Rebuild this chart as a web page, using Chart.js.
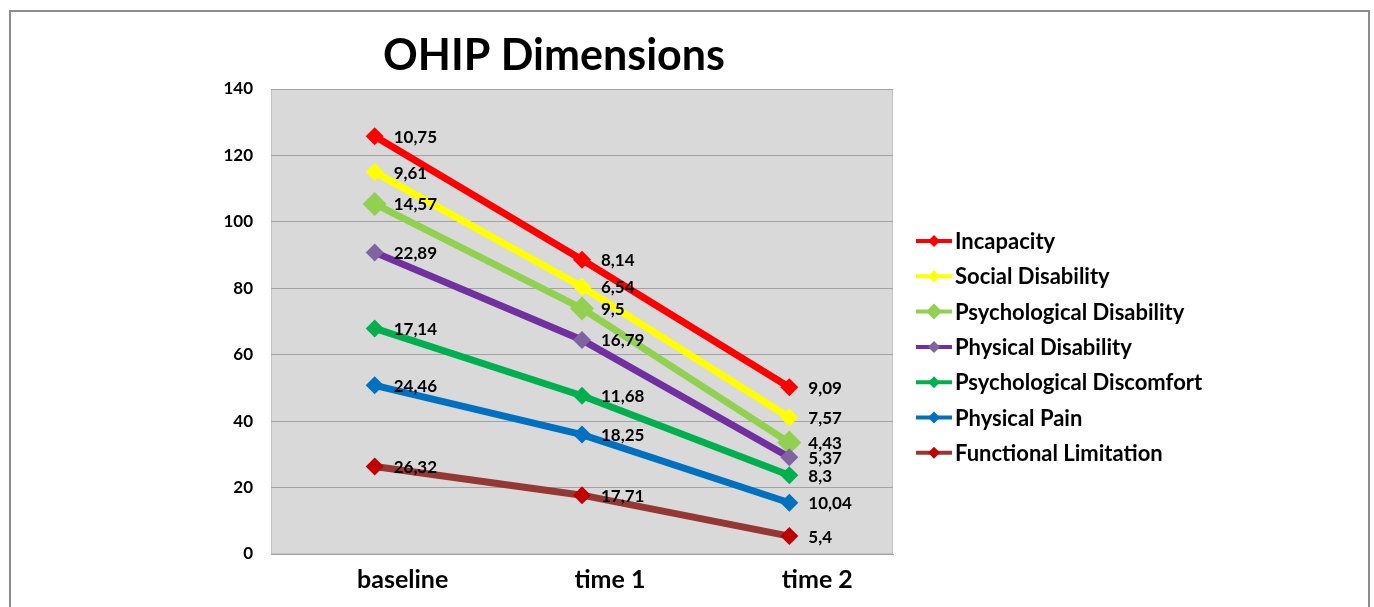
<!DOCTYPE html>
<html>
<head>
<meta charset="utf-8">
<script src="https://cdn.jsdelivr.net/npm/chart.js@4.4.1/dist/chart.umd.min.js"></script>
<style>
  html, body { margin: 0; padding: 0; background: #fff; overflow: hidden; }
  #wrap { position: relative; width: 1374px; height: 607px; }
  #frame {
    position: absolute; left: 9px; top: 10px; width: 1357px; height: 620px;
    border: 2px solid #8c8c8c; pointer-events: none;
  }
</style>
</head>
<body>
<div id="wrap">
  <canvas id="ohipChart" width="1374" height="607"></canvas>
  <div id="frame"></div>
</div>
<script>
const categories = ["baseline", "time 1", "time 2"];

// series, bottom of the stack first
const seriesNames = [
  "Functional Limitation",
  "Physical Pain",
  "Psychological Discomfort",
  "Physical Disability",
  "Psychological Disability",
  "Social Disability",
  "Incapacity",
];
const functionalLimitation = [26.32, 17.71, 5.4];
const physicalPain = [24.46, 18.25, 10.04];
const psychologicalDiscomfort = [17.14, 11.68, 8.3];
const physicalDisability = [22.89, 16.79, 5.37];
const psychologicalDisability = [14.57, 9.5, 4.43];
const socialDisability = [9.61, 6.54, 7.57];
const incapacity = [10.75, 8.14, 9.09];

const yTicks = [0, 20, 40, 60, 80, 100, 120, 140];

const seriesValues = [
  functionalLimitation, physicalPain, psychologicalDiscomfort,
  physicalDisability, psychologicalDisability, socialDisability, incapacity,
];
const lineColors = ["#953735", "#0070C0", "#00B050", "#7030A0", "#92D050", "#FFFF00", "#FF0000"];
const markerColors = ["#C00000", "#0070C0", "#00B050", "#8064A2", "#92D050", "#FFFF00", "#FF0000"];
const markerSizes = [9, 9, 9, 9, 12, 9, 9];

const FONT = "Lato, 'Open Sans', sans-serif";

const plotBackground = {
  id: "plotBackground",
  beforeDraw(chart) {
    const { ctx, chartArea: a } = chart;
    ctx.save();
    ctx.fillStyle = "#d9d9d9";
    ctx.fillRect(a.left, a.top, a.right - a.left, a.bottom - a.top);
    ctx.strokeStyle = "#c4c4c4";
    ctx.lineWidth = 1;
    ctx.strokeRect(a.left + 0.5, a.top + 0.5, a.right - a.left - 1, a.bottom - a.top - 1);
    ctx.restore();
  },
};

const valueLabels = {
  id: "valueLabels",
  afterDatasetsDraw(chart) {
    const { ctx } = chart;
    ctx.save();
    ctx.font = "bold 17px " + FONT;
    ctx.fillStyle = "#000";
    ctx.textAlign = "left";
    ctx.textBaseline = "middle";
    chart.data.datasets.forEach((ds, i) => {
      const meta = chart.getDatasetMeta(i);
      meta.data.forEach((pt, j) => {
        const txt = String(ds.data[j]).replace(".", ",");
        ctx.fillText(txt, pt.x + 19, pt.y + 1);
      });
    });
    ctx.restore();
  },
};

const titleAndLegend = {
  id: "titleAndLegend",
  afterDraw(chart) {
    const { ctx } = chart;
    ctx.save();
    ctx.fillStyle = "#000";
    ctx.textAlign = "center";
    ctx.textBaseline = "middle";
    ctx.font = "bold 43px " + FONT;
    ctx.fillText("OHIP Dimensions", 554, 56);

    // legend, top of the stack first
    const n = chart.data.datasets.length;
    for (let k = 0; k < n; k++) {
      const i = n - 1 - k;
      const ds = chart.data.datasets[i];
      const y = 241 + k * 35.3;
      ctx.strokeStyle = ds.borderColor;
      ctx.lineWidth = 4;
      ctx.beginPath();
      ctx.moveTo(916, y);
      ctx.lineTo(952, y);
      ctx.stroke();
      const r = ds.pointRadius > 9 ? 8 : 6;
      ctx.fillStyle = ds.pointBackgroundColor;
      ctx.beginPath();
      ctx.moveTo(934, y - r);
      ctx.lineTo(934 + r, y);
      ctx.lineTo(934, y + r);
      ctx.lineTo(934 - r, y);
      ctx.closePath();
      ctx.fill();
      ctx.fillStyle = "#000";
      ctx.textAlign = "left";
      ctx.font = "bold 22px " + FONT;
      ctx.fillText(ds.label, 955, y + 1);
    }
    ctx.restore();
  },
};

const datasets = seriesNames.map((name, i) => ({
  label: name,
  data: seriesValues[i],
  borderColor: lineColors[i],
  backgroundColor: lineColors[i],
  pointBackgroundColor: markerColors[i],
  pointBorderColor: markerColors[i],
  pointBorderWidth: 0,
  pointStyle: "rectRot",
  pointRadius: markerSizes[i],
  borderWidth: 7,
  fill: false,
  tension: 0,
  order: i,
}));

new Chart(document.getElementById("ohipChart"), {
  type: "line",
  data: { labels: categories, datasets: datasets },
  plugins: [plotBackground, valueLabels, titleAndLegend],
  options: {
    responsive: false,
    animation: false,
    devicePixelRatio: 1,
    layout: { padding: { left: 0, right: 481, top: 89, bottom: 0 } },
    plugins: { legend: { display: false }, title: { display: false }, tooltip: { enabled: false } },
    scales: {
      x: {
        offset: true,
        grid: { display: false, drawTicks: false },
        border: { display: true, color: "#a0a0a0", width: 1 },
        ticks: { color: "#000", padding: 11, labelOffset: 28, font: { family: FONT, size: 25, weight: "bold" } },
        afterFit(scale) { scale.height = 53; },
      },
      y: {
        stacked: true,
        min: 0,
        max: 140,
        afterBuildTicks(scale) { scale.ticks = yTicks.map((v) => ({ value: v })); },
        grid: { color: "#a3a3a3", lineWidth: 1, drawTicks: false },
        border: { display: false },
        ticks: { color: "#000", padding: 18, font: { family: FONT, size: 17, weight: "bold" } },
        afterFit(scale) { scale.width = 271; },
      },
    },
  },
});
</script>
</body>
</html>
